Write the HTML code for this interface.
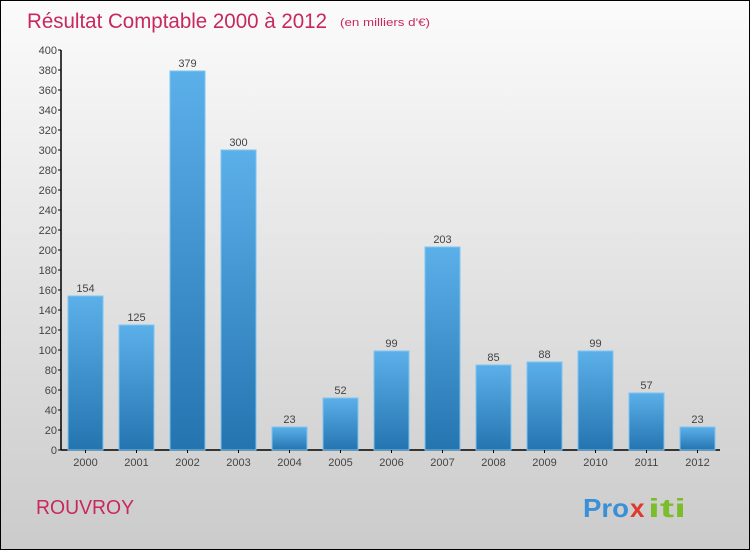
<!DOCTYPE html>
<html><head><meta charset="utf-8"><style>
body{margin:0}
#c{position:relative;width:750px;height:550px;box-sizing:border-box;border:1px solid #000;background:linear-gradient(#fbfbfb,#cbcbcb);font-family:"Liberation Sans",sans-serif;overflow:hidden}
</style></head><body>
<div id="c">
<svg width="750" height="550" style="position:absolute;left:-1px;top:-1px" id="svg">
<defs><linearGradient id="g" x1="0" y1="0" x2="0" y2="1"><stop offset="0" stop-color="#5cb0ea"/><stop offset="1" stop-color="#2474b0"/></linearGradient></defs>
<text x="27" y="28" font-size="21" fill="#c8285f" textLength="300" lengthAdjust="spacingAndGlyphs">Résultat Comptable 2000 à 2012</text>
<text x="340" y="26" font-size="11" fill="#c8285f" textLength="90" lengthAdjust="spacingAndGlyphs">(en milliers d'€)</text>
<text x="36" y="514" font-size="20" fill="#c8285f" textLength="98" lengthAdjust="spacingAndGlyphs">ROUVROY</text>
<g font-size="26" font-weight="bold">
<text x="583" y="517" fill="#3a8fd6" textLength="46" lengthAdjust="spacingAndGlyphs">Pro</text><text x="630" y="517" fill="#e0392b">x</text><text x="648" y="517" fill="#7cbd2b" textLength="38" lengthAdjust="spacingAndGlyphs">iti</text>
</g>
<g id="plot"></g>
</svg>
</div>
<script>
const categories=["2000","2001","2002","2003","2004","2005","2006","2007","2008","2009","2010","2011","2012"];
const values=[154,125,379,300,23,52,99,203,85,88,99,57,23];
const yTicks=[0,20,40,60,80,100,120,140,160,180,200,220,240,260,280,300,320,340,360,380,400];
const NS="http://www.w3.org/2000/svg";
const g=document.getElementById('plot');
const y0=450,y1=50,vmax=400,x0=61,band=51,bw=35,firstLeft=68;
const yS=v=>y0-(v/vmax)*(y0-y1);
const xS=i=>firstLeft+i*band;
function el(t,a){const e=document.createElementNS(NS,t);for(const k in a)e.setAttribute(k,a[k]);g.appendChild(e);return e;}
let ax=el('line',{x1:x0,y1:y1,x2:x0,y2:y0,stroke:'#000','stroke-width':1.5});


let bx=el('line',{x1:x0,y1:y0,x2:720,y2:y0,stroke:'#000','stroke-width':1.5});


yTicks.forEach(t=>{
 const y=yS(t);
 let tk=el('line',{x1:x0-3,y1:y,x2:x0,y2:y,stroke:'#000'});
 
 
 let tx=el('text',{x:x0-4,y:y+4,'font-size':11,fill:'#444','text-anchor':'end'});
 tx.textContent=t;
 
 
});
categories.forEach((c,i)=>{
 const x=xS(i),v=values[i],y=yS(v);
 let r=el('rect',{x:x,y:y,width:bw,height:y0-y,fill:'url(#g)',stroke:'#7cc4f2','stroke-width':1});
 
 
 let lv=el('text',{x:x+bw/2,y:y-4,'font-size':11,fill:'#444','text-anchor':'middle'});
 lv.textContent=v;
 
 
 let tk=el('line',{x1:x+bw/2,y1:y0,x2:x+bw/2,y2:y0+3,stroke:'#000'});
 
 
 let xl=el('text',{x:x+bw/2,y:y0+16,'font-size':11,fill:'#444','text-anchor':'middle'});
 xl.textContent=c;
 
 
});
</script>
</body></html>
